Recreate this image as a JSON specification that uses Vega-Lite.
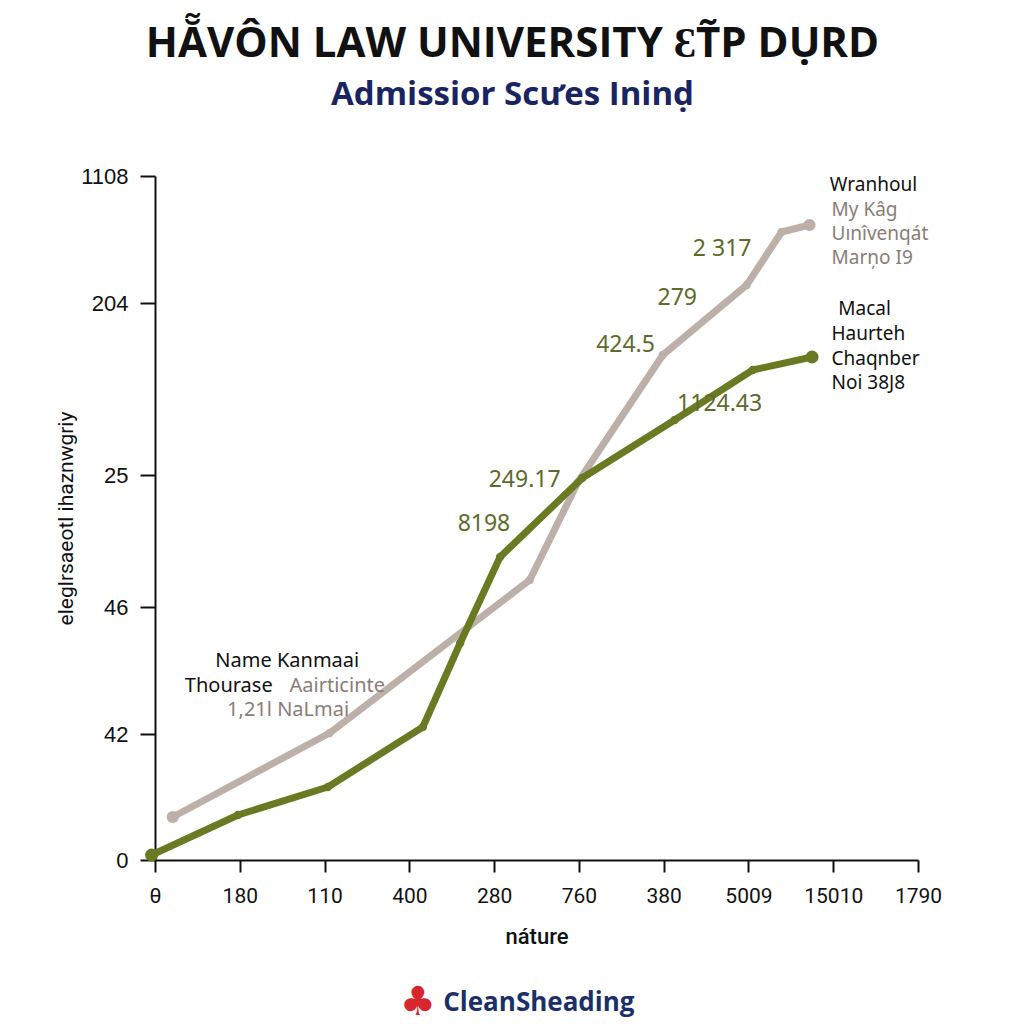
{
  "$schema": "https://vega.github.io/schema/vega-lite/v6.json",
  "width": 763,
  "height": 684,
  "autosize": {"type": "none"},
  "padding": {"left": 155, "top": 176, "right": 106, "bottom": 164},
  "background": "white",
  "config": {"view": {"stroke": null}},
  "title": {
    "text": "HẴVÔN LAW UNIVERSITY ƐT̃P DỤRD",
    "subtitle": "Admissior Scưes Ininḍ",
    "font": "Open Sans",
    "fontSize": 42,
    "fontWeight": "bold",
    "color": "#111111",
    "subtitleFont": "Open Sans",
    "subtitleFontSize": 33,
    "subtitleFontWeight": "bold",
    "subtitleColor": "#1b2462",
    "subtitlePadding": 13,
    "anchor": "middle",
    "dx": -24,
    "offset": 52
  },
  "datasets": {
    "lines": [
      {"series": "gray", "x": 0.21, "y": 43},
      {"series": "gray", "x": 2.06, "y": 127},
      {"series": "gray", "x": 4.42, "y": 280},
      {"series": "gray", "x": 4.99, "y": 378},
      {"series": "gray", "x": 5.99, "y": 505},
      {"series": "gray", "x": 6.98, "y": 575},
      {"series": "gray", "x": 7.39, "y": 628},
      {"series": "gray", "x": 7.72, "y": 635},
      {"series": "green", "x": -0.04, "y": 5},
      {"series": "green", "x": 0.98, "y": 45},
      {"series": "green", "x": 2.04, "y": 73},
      {"series": "green", "x": 3.16, "y": 133},
      {"series": "green", "x": 3.6, "y": 217},
      {"series": "green", "x": 4.07, "y": 303},
      {"series": "green", "x": 5.04, "y": 382},
      {"series": "green", "x": 6.13, "y": 440},
      {"series": "green", "x": 7.05, "y": 490},
      {"series": "green", "x": 7.75, "y": 503}
    ],
    "values": [
      {"label": "2 317", "x": 6.69, "y": 611},
      {"label": "279", "x": 6.16, "y": 562},
      {"label": "424.5", "x": 5.55, "y": 515},
      {"label": "1124.43", "x": 6.66, "y": 456},
      {"label": "249.17", "x": 4.36, "y": 380},
      {"label": "8198", "x": 3.88, "y": 336}
    ],
    "right": [
      {"label": "Wranhoul", "kind": "black", "x": 7.96, "y": 675},
      {"label": "My Kâg", "kind": "gray", "x": 7.98, "y": 650},
      {"label": "Uınîvenqát", "kind": "gray", "x": 7.98, "y": 626},
      {"label": "Marņo I9", "kind": "gray", "x": 7.98, "y": 602},
      {"label": "Macal", "kind": "black", "x": 8.06, "y": 551},
      {"label": "Haurteh", "kind": "black", "x": 7.98, "y": 526},
      {"label": "Chaqnber", "kind": "black", "x": 7.98, "y": 501},
      {"label": "Noi 38J8", "kind": "black", "x": 7.98, "y": 477}
    ],
    "left": [
      {"label": "Name Kanmaai", "kind": "black", "x": 1.56, "y": 199},
      {"label": "Thourase", "kind": "black", "x": 0.87, "y": 174},
      {"label": "Aairticinte", "kind": "gray", "x": 2.15, "y": 174},
      {"label": "1,21l NaLmai", "kind": "gray", "x": 1.57, "y": 150}
    ],
    "footer": [
      {"label": "♣", "part": "icon", "x": 3.1, "y": -143},
      {"label": "CleanSheading", "part": "text", "x": 3.4, "y": -143}
    ]
  },
  "encoding": {
    "x": {
      "field": "x",
      "type": "quantitative",
      "scale": {"domain": [0, 9], "nice": false, "zero": false},
      "axis": {
        "title": "náture",
        "values": [0, 1, 2, 3, 4, 5, 6, 7, 8, 9],
        "labelExpr": "['θ','180','110','400','280','760','380','5009','15010','1790'][datum.value]",
        "grid": false,
        "domainColor": "#111111",
        "domainWidth": 2,
        "tickColor": "#111111",
        "tickWidth": 2,
        "tickSize": 12,
        "labelPadding": 13,
        "labelFont": "Roboto",
        "labelFontSize": 21,
        "labelColor": "#111111",
        "labelFlush": false,
        "titleFont": "Roboto",
        "titleFontSize": 22,
        "titleFontWeight": 500,
        "titleColor": "#111111",
        "titlePadding": 20
      }
    },
    "y": {
      "field": "y",
      "type": "quantitative",
      "scale": {"domain": [0, 684], "nice": false, "zero": false},
      "axis": {
        "title": "eleglrsaeotl ihaznwgriy",
        "values": [0, 126, 253, 385, 557, 684],
        "labelExpr": "{'0':'0','126':'42','253':'46','385':'25','557':'204','684':'1108'}[datum.value + '']",
        "grid": false,
        "domainColor": "#111111",
        "domainWidth": 2,
        "tickColor": "#111111",
        "tickWidth": 2,
        "tickSize": 15,
        "labelPadding": 12,
        "labelFont": "Liberation Sans",
        "labelFontSize": 22,
        "labelColor": "#111111",
        "titleFont": "Roboto",
        "titleFontSize": 21,
        "titleFontWeight": "normal",
        "titleColor": "#111111",
        "titlePadding": 4
      }
    }
  },
  "layer": [
    {
      "data": {"name": "lines"},
      "transform": [{"filter": "datum.series == 'gray'"}],
      "mark": {"type": "line", "color": "#bdb0a8", "strokeWidth": 7, "strokeCap": "round", "strokeJoin": "round", "clip": false},
      "encoding": {"order": {"field": "x", "type": "quantitative"}}
    },
    {
      "data": {"name": "lines"},
      "transform": [{"filter": "datum.series == 'gray'"}],
      "mark": {"type": "point", "filled": true, "color": "#bdb0a8", "opacity": 1, "size": 70, "clip": false},
      "encoding": {}
    },
    {
      "data": {"name": "lines"},
      "transform": [{"filter": "datum.series == 'gray' && (datum.x < 0.5 || datum.x > 7.6)"}],
      "mark": {"type": "point", "filled": true, "color": "#bdb0a8", "opacity": 1, "size": 150, "clip": false},
      "encoding": {}
    },
    {
      "data": {"name": "lines"},
      "transform": [{"filter": "datum.series == 'green'"}],
      "mark": {"type": "line", "color": "#6a7a22", "strokeWidth": 7, "strokeCap": "round", "strokeJoin": "round", "clip": false},
      "encoding": {"order": {"field": "x", "type": "quantitative"}}
    },
    {
      "data": {"name": "lines"},
      "transform": [{"filter": "datum.series == 'green'"}],
      "mark": {"type": "point", "filled": true, "color": "#6a7a22", "opacity": 1, "size": 70, "clip": false},
      "encoding": {}
    },
    {
      "data": {"name": "lines"},
      "transform": [{"filter": "datum.series == 'green' && (datum.x < 0.5 || datum.x > 7.6)"}],
      "mark": {"type": "point", "filled": true, "color": "#6a7a22", "opacity": 1, "size": 170, "clip": false},
      "encoding": {}
    },
    {
      "data": {"name": "values"},
      "mark": {"type": "text", "font": "Noto Sans", "fontSize": 23, "color": "#5e6a2c", "align": "center", "baseline": "middle", "clip": false},
      "encoding": {"text": {"field": "label"}}
    },
    {
      "data": {"name": "right"},
      "mark": {"type": "text", "font": "Noto Sans", "fontSize": 19, "align": "left", "baseline": "middle", "clip": false},
      "encoding": {
        "text": {"field": "label"},
        "color": {"field": "kind", "type": "nominal", "scale": {"domain": ["black", "gray", "olive"], "range": ["#111111", "#8a7d76", "#5e6a2c"]}, "legend": null}
      }
    },
    {
      "data": {"name": "left"},
      "mark": {"type": "text", "font": "Noto Sans", "fontSize": 20, "align": "center", "baseline": "middle", "clip": false},
      "encoding": {
        "text": {"field": "label"},
        "color": {"field": "kind", "type": "nominal", "scale": {"domain": ["black", "gray", "olive"], "range": ["#111111", "#8a7d76", "#5e6a2c"]}, "legend": null}
      }
    },
    {
      "data": {"name": "footer"},
      "transform": [{"filter": "datum.part == 'icon'"}],
      "mark": {"type": "text", "font": "DejaVu Sans", "fontSize": 40, "color": "#d8262e", "align": "center", "baseline": "middle", "clip": false},
      "encoding": {"text": {"field": "label"}}
    },
    {
      "data": {"name": "footer"},
      "transform": [{"filter": "datum.part == 'text'"}],
      "mark": {"type": "text", "font": "Open Sans", "fontSize": 26, "fontWeight": "bold", "color": "#1c2f6b", "align": "left", "baseline": "middle", "clip": false},
      "encoding": {"text": {"field": "label"}}
    }
  ]
}
